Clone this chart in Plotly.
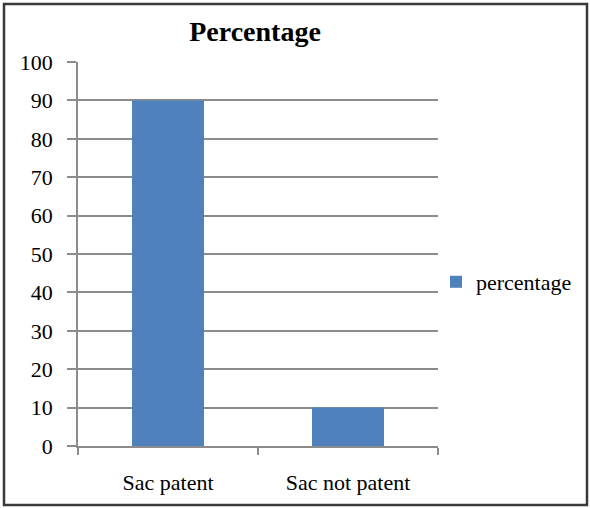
import plotly.graph_objects as go

categories = ["Sac patent", "Sac not patent"]
percentage = [90, 10]
y_ticks = [0, 10, 20, 30, 40, 50, 60, 70, 80, 90, 100]

W, H = 590, 508
L, R, T, B = 78, 152, 62, 62
pw, ph = W - L - R, H - T - B

serif = "Liberation Serif, Times New Roman, serif"
grid = "#8c8c8c"

fig = go.Figure(
    go.Bar(
        x=categories,
        y=percentage,
        name="percentage",
        marker=dict(color="#4f81bd", line=dict(width=0)),
        showlegend=True,
    )
)

fig.update_layout(
    width=W,
    height=H,
    margin=dict(l=L, r=R, t=T, b=B, pad=0),
    paper_bgcolor="white",
    plot_bgcolor="white",
    bargap=0.6,
    font=dict(family=serif, size=22, color="black"),
    title=dict(
        text="<b>Percentage</b>",
        font=dict(family=serif, size=28, color="black"),
        x=255 / W,
        xanchor="center",
        y=1 - 31 / H,
        yanchor="middle",
    ),
    legend=dict(
        x=(436 - L) / pw,
        y=(446 - 282) / ph,
        xanchor="left",
        yanchor="middle",
        font=dict(family=serif, size=22, color="black"),
        bgcolor="rgba(0,0,0,0)",
        borderwidth=0,
    ),
    xaxis=dict(
        showline=True,
        linecolor=grid,
        linewidth=1.5,
        ticks="outside",
        tickson="boundaries",
        ticklen=7,
        tickcolor=grid,
        tickwidth=1.5,
        showgrid=False,
        tickfont=dict(family=serif, size=22, color="black"),
        ticklabelstandoff=16,
    ),
    yaxis=dict(
        range=[0, 100],
        tickvals=y_ticks,
        showline=True,
        linecolor=grid,
        linewidth=1.5,
        ticks="outside",
        ticklen=9,
        tickcolor=grid,
        tickwidth=1.5,
        showgrid=True,
        gridcolor=grid,
        gridwidth=1.5,
        zeroline=False,
        tickfont=dict(family=serif, size=22, color="black"),
        ticklabelstandoff=10,
    ),
    shapes=[
        dict(
            type="rect",
            xref="paper",
            yref="paper",
            x0=(4 - L) / pw,
            x1=(587 - L) / pw,
            y0=-(505 - (H - B)) / ph,
            y1=1 + (T - 4) / ph,
            line=dict(color="#3a3a3a", width=2.5),
            fillcolor="rgba(0,0,0,0)",
            layer="above",
        )
    ],
)

fig.write_html("out.html")
